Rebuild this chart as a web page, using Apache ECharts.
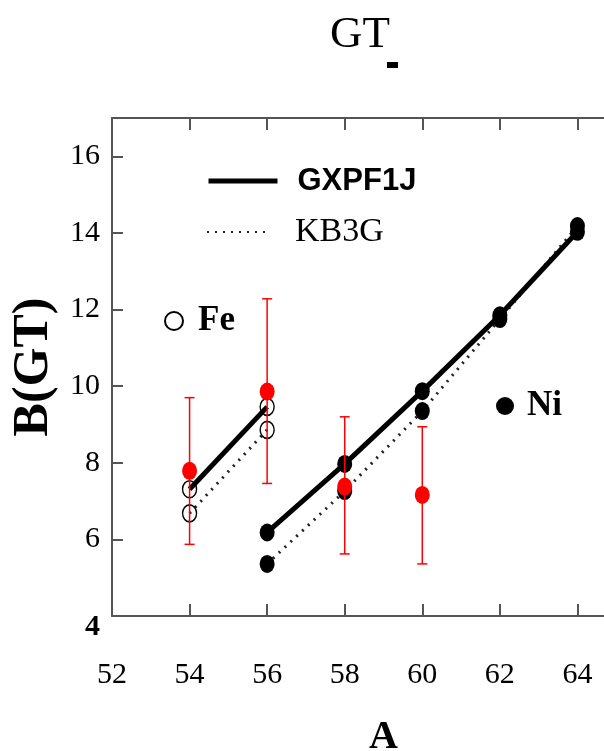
<!DOCTYPE html>
<html><head><meta charset="utf-8">
<script src="https://cdn.jsdelivr.net/npm/echarts@6/dist/echarts.min.js"></script>
<style>html,body{margin:0;padding:0;background:#fff}#c{width:604px;height:751px}</style>
</head><body><div id="c"></div>
<script>
// ---- data ----
const A_FE = [54, 56];
const FE_GXPF1J = [7.31, 9.46];
const FE_KB3G = [6.68, 8.86];
const A_NI = [56, 58, 60, 62, 64];
const NI_GXPF1J = [6.18, 7.97, 9.87, 11.85, 14.03];
const NI_KB3G = [5.36, 7.26, 9.35, 11.75, 14.18];
const A_EXP = [54, 56, 58, 60];
const EXP_B = [7.79, 9.86, 7.38, 7.16];
const EXP_LO = [5.87, 7.46, 5.62, 5.36];
const EXP_HI = [9.70, 12.28, 9.20, 8.94];
const X_RANGE = [52, 66];
const Y_RANGE = [4, 17];
const TICK_STEP = 2;

const SERIF = 'Liberation Serif, Times New Roman, serif';
const SANS = 'Liberation Sans, Arial, sans-serif';
const pairs = (xs, ys) => xs.map((x, i) => [x, ys[i]]);

const chart = echarts.init(document.getElementById('c'), null, {renderer: 'canvas'});
const axisColor = '#555';

const option = {
  backgroundColor: '#fff',
  animation: false,
  title: [{
    text: 'GT', left: 330, top: 13, padding: 0,
    textStyle: {fontFamily: SERIF, fontWeight: 'normal', fontSize: 45, color: '#000'}
  }, {
    text: '{b|}', left: 387, top: 62, padding: 0,
    textStyle: {rich: {b: {width: 11, height: 6, backgroundColor: '#000'}}}
  }],
  grid: {left: 112, top: 118, width: 543, height: 498, containLabel: false, outerBoundsMode: 'none'},
  xAxis: [{
    type: 'value', min: X_RANGE[0], max: X_RANGE[1], interval: TICK_STEP,
    position: 'bottom',
    name: 'A', nameLocation: 'middle', nameGap: 102,
    nameTextStyle: {fontFamily: SERIF, fontWeight: 'bold', fontSize: 40, color: '#000'},
    axisLine: {lineStyle: {color: axisColor, width: 2}},
    axisTick: {inside: true, length: 12, lineStyle: {color: axisColor, width: 2}},
    axisLabel: {margin: 44, fontFamily: SERIF, fontSize: 30, color: '#000', showMaxLabel: false},
    splitLine: {show: false}
  }, {
    type: 'value', min: X_RANGE[0], max: X_RANGE[1], interval: TICK_STEP,
    position: 'top',
    axisLine: {lineStyle: {color: axisColor, width: 2}},
    axisTick: {inside: true, length: 12, lineStyle: {color: axisColor, width: 2}},
    axisLabel: {show: false},
    splitLine: {show: false}
  }],
  yAxis: {
    type: 'value', min: Y_RANGE[0], max: Y_RANGE[1], interval: TICK_STEP,
    name: 'B(GT)', nameLocation: 'middle', nameGap: 44, nameRotate: 90,
    nameTextStyle: {fontFamily: SERIF, fontWeight: 'bold', fontSize: 50, color: '#000'},
    axisLine: {lineStyle: {color: axisColor, width: 2}},
    axisTick: {inside: true, length: 11, lineStyle: {color: axisColor, width: 2}},
    axisLabel: {
      margin: 12, showMaxLabel: false,
      formatter: v => v === Y_RANGE[0] ? '{b|' + v + '}' : '{n|' + v + '}',
      rich: {
        n: {fontFamily: SERIF, fontSize: 30, color: '#000'},
        b: {fontFamily: SERIF, fontSize: 30, fontWeight: 'bold', color: '#000', padding: [22, 0, 0, 0]}
      }
    },
    splitLine: {show: false}
  },
  legend: [{
    data: ['GXPF1J'], left: 206, top: 164, padding: 0, itemWidth: 69, itemHeight: 14,
    selectedMode: false, itemStyle: {opacity: 0}, lineStyle: {width: 5, color: '#000'},
    textStyle: {fontFamily: SANS, fontWeight: 'bold', fontSize: 31, color: '#000', padding: [0, 0, 0, 15], lineHeight: 34}
  }, {
    data: ['KB3G'], left: 206, top: 215, padding: 0, itemWidth: 64, itemHeight: 14,
    selectedMode: false, itemStyle: {opacity: 0},
    textStyle: {fontFamily: SERIF, fontSize: 34, color: '#000', padding: [0, 0, 0, 19], lineHeight: 34}
  }, {
    data: [{name: 'Fe', icon: 'circle'}], left: 164, top: 297, padding: 0, itemWidth: 18, itemHeight: 20,
    selectedMode: false,
    textStyle: {fontFamily: SERIF, fontWeight: 'bold', fontSize: 35, color: '#000', padding: [12, 0, 0, 10], lineHeight: 36}
  }, {
    data: [{name: 'Ni', icon: 'circle'}], left: 496, top: 380, padding: 0, itemWidth: 18, itemHeight: 21,
    selectedMode: false,
    textStyle: {fontFamily: SERIF, fontWeight: 'bold', fontSize: 35, color: '#000', padding: [16, 0, 0, 8], lineHeight: 36}
  }],
  series: [
    {name: 'GXPF1J', type: 'line', symbol: 'none', data: pairs(A_FE, FE_GXPF1J),
     itemStyle: {color: '#000'}, lineStyle: {color: '#000', width: 5}, z: 2},
    {name: 'GXPF1J', type: 'line', symbol: 'none', data: pairs(A_NI, NI_GXPF1J),
     itemStyle: {color: '#000'}, lineStyle: {color: '#000', width: 5}, z: 2},
    {name: 'KB3G', type: 'line', symbol: 'none', data: pairs(A_FE, FE_KB3G),
     itemStyle: {color: '#222'}, lineStyle: {color: '#222', width: 3, type: [2, 6]}, z: 1},
    {name: 'KB3G', type: 'line', symbol: 'none', data: pairs(A_NI, NI_KB3G),
     itemStyle: {color: '#222'}, lineStyle: {color: '#222', width: 3, type: [2, 6]}, z: 1},
    {name: 'Fe', type: 'scatter', symbol: 'circle', symbolSize: [14, 17],
     data: pairs(A_FE, FE_GXPF1J).concat(pairs(A_FE, FE_KB3G)),
     itemStyle: {color: 'rgba(255,255,255,0)', borderColor: '#000', borderWidth: 1.5, opacity: 1}, z: 3},
    {name: 'Ni', type: 'scatter', symbol: 'circle', symbolSize: [15, 18],
     data: pairs(A_NI, NI_GXPF1J).concat(pairs(A_NI, NI_KB3G)),
     itemStyle: {color: '#000', opacity: 1}, z: 3},
    {name: 'Exp', type: 'custom', z: 4,
     data: A_EXP.map((a, i) => [a, EXP_LO[i], EXP_HI[i]]),
     renderItem: (params, api) => {
       const lo = api.coord([api.value(0), api.value(1)]);
       const hi = api.coord([api.value(0), api.value(2)]);
       const w = 5;
       const st = {stroke: '#f00', lineWidth: 1.5};
       return {type: 'group', children: [
         {type: 'line', shape: {x1: lo[0], y1: lo[1], x2: hi[0], y2: hi[1]}, style: st},
         {type: 'line', shape: {x1: lo[0] - w, y1: lo[1], x2: lo[0] + w, y2: lo[1]}, style: st},
         {type: 'line', shape: {x1: hi[0] - w, y1: hi[1], x2: hi[0] + w, y2: hi[1]}, style: st}
       ]};
     }},
    {name: 'Exp', type: 'scatter', symbol: 'circle', symbolSize: [15, 18],
     data: pairs(A_EXP, EXP_B), itemStyle: {color: '#f00', opacity: 1}, z: 5}
  ]
};
chart.setOption(option);
</script>
</body></html>
